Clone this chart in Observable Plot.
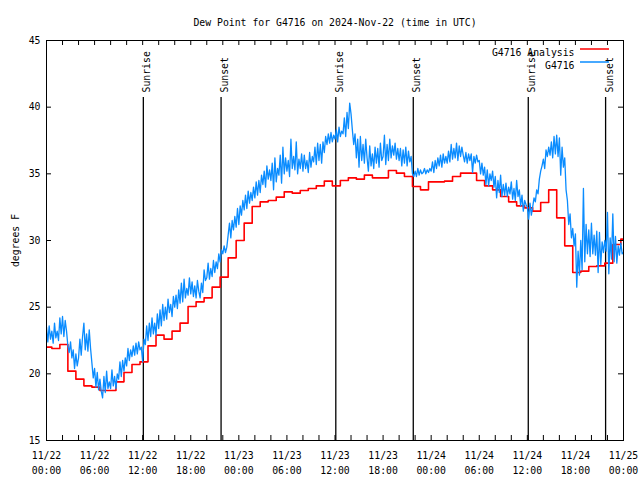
<!DOCTYPE html>
<html><head><meta charset="utf-8">
<script src="https://cdn.jsdelivr.net/npm/d3@7"></script>
<script src="https://cdn.jsdelivr.net/npm/@observablehq/plot@0.6"></script>
<style>body{margin:0;background:#fff;} svg{display:block}</style>
</head><body><div id="chart"></div>
<script>
const title = "Dew Point for G4716 on 2024-Nov-22 (time in UTC)";
const startTime = "2024-11-22T00:00:00Z";
const endTime = "2024-11-25T00:00:00Z";
const yLabel = "degrees F";
const yTicks = [15, 20, 25, 30, 35, 40, 45];
const seriesNames = ["G4716 Analysis", "G4716"];
const seriesColors = ["#ff0000", "#0a8cff"];

// station observations, one every 10 minutes from 11/22 00:00
const stationStepMinutes = 10;
const stationValues = [
  23.5, 22.4, 23.6, 22.6, 23.2, 22.3,
  23.8, 22.7, 23.2, 22.5, 24.2, 23.0,
  24.3, 22.8, 24.0, 23.2, 22.1, 21.6,
  22.4, 21.2, 21.8, 20.4, 21.5, 20.6,
  21.2, 22.6, 21.4, 22.8, 23.8, 21.8,
  23.0, 21.7, 23.3, 21.9, 20.8, 19.7,
  20.4, 19.0, 20.1, 18.8, 19.6, 18.7,
  18.2, 19.8, 18.6, 20.2, 18.9, 19.4,
  18.9, 20.3, 19.1, 19.8, 18.9, 20.0,
  19.6, 20.9, 19.8, 21.0, 20.2, 21.2,
  20.6, 21.9, 21.0, 21.8, 21.3, 22.1,
  21.4, 22.3, 21.5, 22.4, 21.8, 22.0,
  20.9, 22.6, 22.2, 23.6, 22.5, 23.8,
  22.8, 24.2, 23.0, 23.8, 22.9, 24.5,
  23.4, 24.8, 23.6, 25.2, 24.0, 25.0,
  24.1, 25.6, 24.6, 25.2, 24.3, 25.8,
  25.0, 25.9, 24.9, 26.3, 25.3, 26.8,
  25.4, 27.1, 25.7, 26.4, 25.9, 27.2,
  26.0, 26.9, 25.8, 26.6, 25.7, 27.0,
  26.2, 25.7, 26.8, 26.1, 27.8, 27.0,
  27.2, 28.3, 27.1, 27.9, 27.3, 28.5,
  27.6, 28.4, 27.9, 29.0, 28.4, 29.3,
  29.0, 29.6, 29.1, 29.5, 30.4, 31.3,
  30.2, 31.5, 30.8, 31.8, 31.0, 32.4,
  31.2, 32.6, 31.9, 33.0, 32.3, 33.4,
  32.4, 33.7, 32.8, 33.6, 33.0, 34.0,
  33.2, 34.4, 33.4, 34.5, 33.6, 34.9,
  34.2, 35.2, 34.0, 35.6, 34.6, 35.3,
  34.5, 35.8, 33.8, 36.2, 34.4, 35.4,
  34.9, 36.4, 34.3, 37.0, 35.0, 36.2,
  35.2, 36.0, 34.8, 37.6, 35.4, 36.3,
  35.3, 37.4, 35.0, 36.1, 35.4, 36.5,
  35.2, 36.4, 35.4, 36.0, 35.1, 36.6,
  35.5, 36.3, 35.9, 37.0, 35.7, 37.3,
  36.0, 37.2, 35.8, 37.4, 36.6, 37.8,
  37.2, 38.0, 37.3, 38.1, 37.4, 37.9,
  37.6, 38.3, 37.4, 38.5, 37.8, 38.2,
  38.0, 39.2, 37.8, 39.6, 38.4, 40.3,
  39.5, 38.3, 37.2, 38.0, 36.2, 37.6,
  35.5, 37.8, 36.0, 37.2, 35.8, 37.6,
  36.2, 35.2, 37.1, 35.6, 36.5, 35.4,
  37.0, 35.8, 36.9, 35.5, 37.3, 36.0,
  36.3, 37.9, 35.7, 37.2, 36.0, 37.6,
  36.2, 37.1, 36.4, 37.3, 36.1, 36.9,
  36.0, 36.9, 35.6, 36.8, 35.8, 37.0,
  35.6, 36.7, 35.9, 36.3, 35.0, 34.8,
  35.2, 34.8, 35.4, 34.9, 35.3, 35.0,
  35.1, 35.4, 35.0, 35.3, 35.1, 35.4,
  35.2, 35.9, 35.1, 36.0, 35.4, 36.2,
  35.6, 36.4, 35.5, 36.5, 35.8, 36.3,
  35.8, 36.7, 35.9, 37.2, 36.1, 36.9,
  36.2, 37.3, 36.0, 37.1, 36.3, 37.0,
  36.4, 35.9, 36.6, 35.8, 36.5, 36.0,
  36.5, 35.1, 36.3, 35.8, 36.4, 35.9,
  36.0, 35.0, 35.8, 34.9, 35.5, 34.2,
  35.3, 34.1, 35.0, 34.5, 35.2, 34.0,
  34.8, 33.2, 34.5, 33.6, 34.9, 33.3,
  34.2, 33.4, 34.3, 33.3, 34.0, 33.5,
  34.4, 33.1, 33.9, 33.0, 34.5, 33.3,
  33.8, 32.6, 33.4, 32.2, 33.0, 32.7,
  32.5, 31.6, 32.8, 31.9, 32.5, 33.2,
  32.9, 33.8, 33.5, 34.6, 35.2, 35.6,
  36.1, 35.4, 36.8, 36.3, 37.0, 36.4,
  37.4, 36.2, 37.8, 36.5, 37.9, 36.3,
  37.7, 34.9, 37.0, 35.5, 36.2, 33.8,
  33.0, 31.2, 32.0, 30.2, 30.9, 29.6,
  30.5, 26.5, 29.2, 27.4, 30.0, 27.8,
  33.9, 28.4, 31.2, 29.0, 30.8, 28.8,
  31.3, 29.0, 30.4, 28.9, 30.7, 27.6,
  30.6, 28.2, 29.9, 29.1, 30.0, 29.2,
  32.1, 27.5, 30.2, 28.6, 32.0, 28.4,
  30.3, 28.3, 29.6, 28.9, 29.8, 29.0,
  29.1
];

// hourly analysis, each value valid from hh:40, first one from 11/21 23:40
const analysisFirstMinutes = -20;
const analysisValues = [
  22.0, 21.9, 22.2, 20.2, 19.6, 19.1, 19.0, 18.75, 18.75, 19.4,
  20.1, 20.7, 20.9, 22.1, 22.9, 22.6, 23.2, 23.8, 25.05, 25.4,
  25.7, 26.5, 27.25, 28.7, 30.0, 31.3, 32.55, 32.9, 33.0, 33.25,
  33.65, 33.55, 33.75, 33.9, 34.1, 34.45, 34.1, 34.5, 34.7, 34.6,
  34.9, 34.7, 34.7, 35.25, 35.05, 34.8, 34.05, 33.8, 34.4, 34.4,
  34.45, 34.8, 35.05, 35.05, 34.5, 34.1, 33.8, 33.3, 32.9, 32.6,
  32.45, 32.2, 32.85, 33.8, 31.7, 29.6, 27.6, 27.7, 28.05, 28.1,
  28.3, 29.7, 30.1
];

const sunTimes = ["2024-11-22T12:05:00Z", "2024-11-22T21:47:00Z", "2024-11-23T12:06:00Z",
                  "2024-11-23T21:46:00Z", "2024-11-24T12:07:00Z", "2024-11-24T21:46:00Z"];
const sunLabels = ["Sunrise", "Sunset", "Sunrise", "Sunset", "Sunrise", "Sunset"];

const t0 = new Date(startTime), t1 = new Date(endTime);
const MIN = 60000;
const station = stationValues.map((v, i) => ({t: new Date(+t0 + i * stationStepMinutes * MIN), v}));
const analysis = analysisValues.map((v, i) => ({t: new Date(+t0 + (analysisFirstMinutes + 60 * i) * MIN), v}));
analysis.push({t: t1, v: analysisValues[analysisValues.length - 1]});
const sun = sunTimes.map((t, i) => ({t: new Date(t), label: sunLabels[i]}));
const minorTicks = d3.utcHours(t0, new Date(+t1 + 1), 2);
const majorTicks = d3.utcHours(t0, new Date(+t1 + 1), 6);

const W = 640, H = 480, mL = 46, mR = 17, mT = 40, mB = 40;
const pw = W - mL - mR, ph = H - mT - mB, TICK = 5;
const font = "'DejaVu Sans Mono', 'Liberation Mono', monospace";

const chart = Plot.plot({
  width: W, height: H,
  marginLeft: mL, marginRight: mR, marginTop: mT, marginBottom: mB,
  style: {fontFamily: font, fontSize: "9.8px", background: "#fff", color: "#000"},
  x: {type: "utc", domain: [t0, t1]},
  y: {domain: [15, 45]},
  marks: [
    Plot.ruleX(sun, {x: "t", stroke: "black", strokeWidth: 1.3, insetTop: 57}),
    Plot.text(sun, {x: "t", text: "label", frameAnchor: "top", dy: 52, rotate: -90, textAnchor: "start", fill: "black"}),
    Plot.line(analysis, {x: "t", y: "v", curve: "step-after", stroke: seriesColors[0], strokeWidth: 1.6, clip: true}),
    Plot.line(station, {x: "t", y: "v", stroke: seriesColors[1], strokeWidth: 1.3, clip: true}),
    Plot.frame({stroke: "black"}),
    Plot.tickX(minorTicks, {x: d => d, insetTop: ph - TICK, stroke: "black"}),
    Plot.tickX(minorTicks, {x: d => d, insetBottom: ph - TICK, stroke: "black"}),
    Plot.tickY(yTicks, {y: d => d, insetRight: pw - TICK, stroke: "black"}),
    Plot.tickY(yTicks, {y: d => d, insetLeft: pw - TICK, stroke: "black"}),
    Plot.axisX({ticks: majorTicks, tickSize: 0, tickPadding: 7, tickFormat: d3.utcFormat("%m/%d\n%H:%M"), lineHeight: 1.6, label: null}),
    Plot.axisY({ticks: yTicks, tickSize: 0, tickPadding: 6, label: yLabel, labelAnchor: "center", labelOffset: 34, labelArrow: "none"}),
    Plot.text([title], {frameAnchor: "top", dy: -21, fill: "black"}),
    Plot.text([seriesNames[0]], {frameAnchor: "top-right", dx: -49, dy: 9, textAnchor: "end", fill: "black"}),
    Plot.text([seriesNames[1]], {frameAnchor: "top-right", dx: -49, dy: 22, textAnchor: "end", fill: "black"})
  ]
});

const svg = d3.select(chart);
seriesColors.forEach((c, i) => {
  svg.append("line")
    .attr("x1", W - mR - 43).attr("x2", W - mR - 14)
    .attr("y1", mT + 9 + 13 * i).attr("y2", mT + 9 + 13 * i)
    .attr("stroke", c).attr("stroke-width", 1.5);
});
document.getElementById("chart").appendChild(chart);
</script>
</body></html>
